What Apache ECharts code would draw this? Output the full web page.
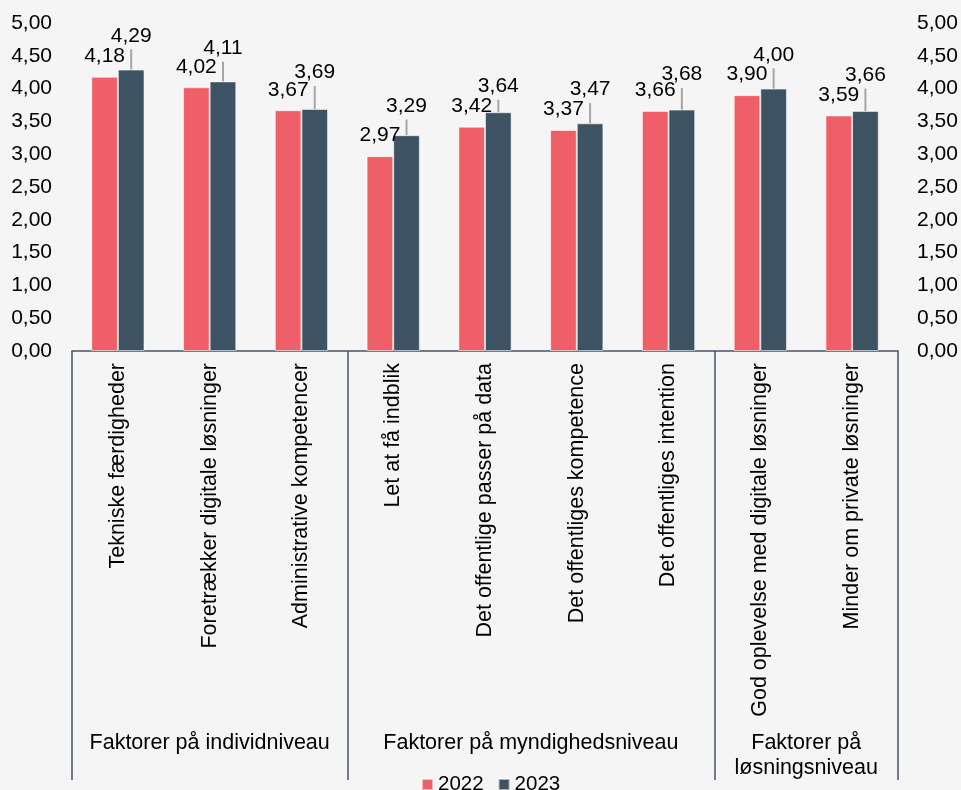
<!DOCTYPE html>
<html>
<head>
<meta charset="utf-8">
<script src="https://cdn.jsdelivr.net/npm/echarts@6/dist/echarts.min.js"></script>
<style>
html,body{margin:0;padding:0;background:#f5f5f5;}
#chart{width:961px;height:790px;}
</style>
</head>
<body>
<div id="chart"></div>
<script>
const categories = ['Tekniske færdigheder','Foretrækker digitale løsninger','Administrative kompetencer','Let at få indblik','Det offentlige passer på data','Det offentliges kompetence','Det offentliges intention','God oplevelse med digitale løsninger','Minder om private løsninger'];
const values2022 = [4.18,4.02,3.67,2.97,3.42,3.37,3.66,3.90,3.59];
const values2023 = [4.29,4.11,3.69,3.29,3.64,3.47,3.68,4.00,3.66];
const errors2023 = [0.31,0.30,0.35,0.24,0.19,0.31,0.33,0.31,0.34];
const groupNames = ['Faktorer på individniveau','Faktorer på myndighedsniveau','Faktorer på\nløsningsniveau'];
const groupSizes = [3,4,2];
const seriesNames = ['2022','2023'];

const FONT = 'Liberation Sans, Arial, sans-serif';
const fmt = v => v.toFixed(2).replace('.', ',');

// group boundaries and centres
const bounds = [0];
groupSizes.forEach(s => bounds.push(bounds[bounds.length-1] + s));
const centers = groupSizes.map((s,i) => bounds[i] + s/2);

const BAR_FRAC = 0.29;

const chart = echarts.init(document.getElementById('chart'));
chart.setOption({
  backgroundColor: '#f5f5f5',
  animation: false,
  textStyle: { fontFamily: FONT },
  legend: {
    data: seriesNames,
    left: 421, top: 774, padding: 0,
    itemWidth: 11, itemHeight: 11, itemGap: 14,
    icon: 'rect',
    textStyle: { fontSize: 20.5, color: '#000', fontFamily: FONT }
  },
  grid: { left: 72, right: 63, top: 23, bottom: 439, containLabel: false },
  xAxis: [
    {
      type: 'category', data: categories,
      axisLine: { show: false }, axisTick: { show: false },
      axisLabel: { rotate: 90, interval: 0, margin: 12, fontSize: 21.5, color: '#000', fontFamily: FONT }
    },
    {
      type: 'value', min: 0, max: bounds[bounds.length-1], position: 'bottom',
      splitLine: { show: false },
      axisLine: { show: true, onZero: false, lineStyle: { color: '#44546a', width: 1.5 } },
      axisTick: { show: true, customValues: bounds, length: 429, lineStyle: { color: '#44546a', width: 1.5 } },
      axisLabel: {
        customValues: centers, margin: 380, fontSize: 21.5, color: '#000', fontFamily: FONT,
        verticalAlign: 'top', lineHeight: 25, align: 'center',
        formatter: v => { const i = centers.findIndex(c => Math.abs(c - v) < 1e-6); return i >= 0 ? groupNames[i] : ''; }
      }
    }
  ],
  yAxis: [
    {
      type: 'value', min: 0, max: 5, interval: 0.5, position: 'left',
      splitLine: { show: false }, axisLine: { show: false }, axisTick: { show: false },
      axisLabel: { margin: 20, fontSize: 21, color: '#000', fontFamily: FONT, formatter: fmt }
    },
    {
      type: 'value', min: 0, max: 5, interval: 0.5, position: 'right',
      splitLine: { show: false }, axisLine: { show: false }, axisTick: { show: false },
      axisLabel: { margin: 19, fontSize: 21, color: '#000', fontFamily: FONT, formatter: fmt }
    }
  ],
  series: [
    {
      name: seriesNames[0], type: 'bar', data: values2022, xAxisIndex: 0,
      barWidth: (BAR_FRAC*100) + '%', barGap: '0%',
      itemStyle: { color: '#ef5f68', borderColor: 'rgba(255,255,255,0.55)', borderWidth: 1 },
      label: { show: true, position: 'top', distance: 10, fontSize: 21, color: '#000', fontFamily: FONT, formatter: p => fmt(p.value) }
    },
    {
      name: seriesNames[1], type: 'bar', data: values2023, xAxisIndex: 0,
      barWidth: (BAR_FRAC*100) + '%', barGap: '0%',
      itemStyle: { color: '#3d5263', borderColor: 'rgba(255,255,255,0.55)', borderWidth: 1 }
    },
    {
      name: 'err', type: 'custom', xAxisIndex: 0, z: 5,
      data: values2023.map((v,i) => [i, v, errors2023[i]]),
      renderItem: function(params, api) {
        const i = api.value(0), v = api.value(1), e = api.value(2);
        const band = api.size([1, 0])[0];
        const base = api.coord([i, v]);
        const topPt = api.coord([i, v + e]);
        const x = base[0] + band * BAR_FRAC / 2;
        return {
          type: 'group',
          children: [
            { type: 'line', shape: { x1: x, y1: base[1], x2: x, y2: topPt[1] }, style: { stroke: '#a6a6a6', lineWidth: 2 } },
            { type: 'text', style: { text: fmt(v), x: x, y: topPt[1] - 3, textAlign: 'center', textVerticalAlign: 'bottom', fontSize: 21, fontFamily: FONT, fill: '#000' } }
          ]
        };
      }
    }
  ]
});
</script>
</body>
</html>
